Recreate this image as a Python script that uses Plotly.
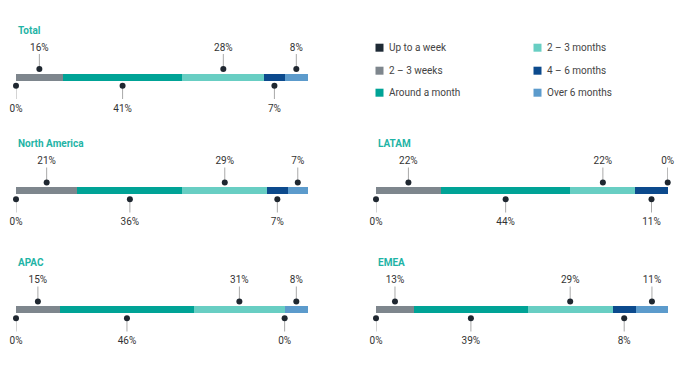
import plotly.graph_objects as go

PAGE_W, PAGE_H = 684, 384
BODY_MARGIN = 8              # default page margin around the plot div
W, H = PAGE_W - BODY_MARGIN, PAGE_H - BODY_MARGIN

series = ["Up to a week", "2 – 3 weeks", "Around a month",
          "2 – 3 months", "4 – 6 months", "Over 6 months"]
colors = ["#1e2a35", "#7e868d", "#00a396", "#68cec3", "#0c4a8d", "#5c9bcc"]

regions = ["Total", "North America", "LATAM", "APAC", "EMEA"]
total = [0, 16, 41, 28, 7, 8]
north_america = [0, 21, 36, 29, 7, 7]
latam = [0, 22.2, 44.4, 22.2, 11.1, 0]
apac = [0, 15, 46, 31, 0, 8]
emea = [0, 13, 39, 29, 8, 11]
data = [total, north_america, latam, apac, emea]


def px_x(p):
    return (p - BODY_MARGIN) / W


def px_y(p):
    return 1 - (p - BODY_MARGIN) / H


# panel placement in page pixels: (left x of bar, bar centre y)
panel_pos = [(16, 77), (16, 190.5), (376, 190.5), (16, 309.5), (376, 309.5)]
BAR_W_PX = 292
Y_LO, Y_HI = -50, 55   # y-axis range in pixel units (1 unit = 1 px)

FONT = "Roboto"
TXT = "#333333"
DOT = "#1f2730"
PIN = "#a9a9a9"
TITLE_C = "#1fb4a6"

fig = go.Figure()
layout_axes = {}
annotations = []

for k, (name, vals) in enumerate(zip(regions, data)):
    n = k + 1
    xs = "x" if n == 1 else f"x{n}"
    ys = "y" if n == 1 else f"y{n}"
    xkey = "xaxis" if n == 1 else f"xaxis{n}"
    ykey = "yaxis" if n == 1 else f"yaxis{n}"
    x0, cy = panel_pos[k]
    layout_axes[xkey] = dict(domain=[px_x(x0), px_x(x0 + BAR_W_PX)], range=[0, 100],
                             visible=False, anchor=ys, fixedrange=True)
    layout_axes[ykey] = dict(domain=[px_y(cy - Y_LO), px_y(cy - Y_HI)],
                             range=[Y_LO, Y_HI], visible=False, anchor=xs, fixedrange=True)

    cum = 0
    mids = []
    for i, v in enumerate(vals):
        fig.add_trace(go.Bar(x=[v], y=[0], orientation="h", width=7,
                             marker=dict(color=colors[i], line=dict(width=0)),
                             xaxis=xs, yaxis=ys, showlegend=False, hoverinfo="skip"))
        mids.append(cum + v / 2)
        cum += v

    lx, ly, dy, ty, texts = [], [], [], [], []
    for i, m in enumerate(mids):
        above = (i % 2 == 1)
        if above:
            lx += [m, m, None]; ly += [9, 23, None]
            dy.append(8); ty.append(28.7)
        else:
            lx += [m, m, None]; ly += [-9, -22, None]
            dy.append(-8.7); ty.append(-32)
        texts.append(f"{round(vals[i])}%")

    fig.add_trace(go.Scatter(x=lx, y=ly, mode="lines", line=dict(color=PIN, width=1),
                             xaxis=xs, yaxis=ys, showlegend=False, hoverinfo="skip",
                             cliponaxis=False))
    fig.add_trace(go.Scatter(x=mids, y=dy, mode="markers",
                             marker=dict(color=DOT, size=6, line=dict(width=0)),
                             xaxis=xs, yaxis=ys, showlegend=False, hoverinfo="skip",
                             cliponaxis=False))
    fig.add_trace(go.Scatter(x=mids, y=ty, mode="text", text=texts,
                             textposition="middle center",
                             textfont=dict(family=FONT, size=10, color=TXT),
                             xaxis=xs, yaxis=ys, showlegend=False, hoverinfo="skip",
                             cliponaxis=False))
    annotations.append(dict(text=f"<b>{name}</b>", x=0, y=47, xref=xs, yref=ys,
                            xanchor="left", yanchor="middle", showarrow=False,
                            font=dict(family=FONT, size=10, color=TITLE_C)))

# manual legend (two columns of three)
shapes = []
leg_x = [379.5, 537.5]
leg_y = [47.7, 70.7, 92.7]
SQ = 8
for i, (s, c) in enumerate(zip(series, colors)):
    col, row = i // 3, i % 3
    cx, cyy = leg_x[col], leg_y[row]
    shapes.append(dict(type="rect", xref="paper", yref="paper",
                       x0=px_x(cx - SQ / 2), x1=px_x(cx + SQ / 2),
                       y0=px_y(cyy + SQ / 2), y1=px_y(cyy - SQ / 2),
                       fillcolor=c, line=dict(width=0)))
    annotations.append(dict(text=s, x=px_x(cx + SQ / 2 + 3), y=px_y(cyy),
                            xref="paper", yref="paper", xanchor="left", yanchor="middle",
                            showarrow=False, font=dict(family=FONT, size=10, color="#444444")))

fig.update_layout(width=W, height=H, margin=dict(l=0, r=0, t=0, b=0),
                  paper_bgcolor="white", plot_bgcolor="white",
                  barmode="stack", showlegend=False,
                  annotations=annotations, shapes=shapes, **layout_axes)

fig.write_html("out.html")
